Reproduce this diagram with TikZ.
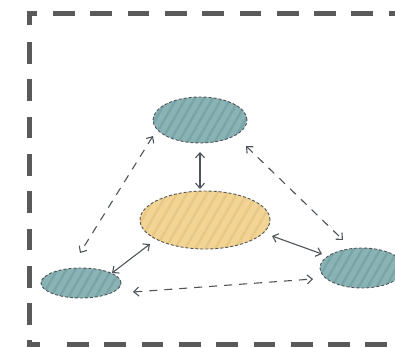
\documentclass[tikz,border=0pt]{standalone}
\usetikzlibrary{arrows.meta,shapes.geometric}
\definecolor{teal1}{HTML}{8AB3B5}
\definecolor{teal2}{HTML}{7AA5A8}
\definecolor{sand1}{HTML}{F2D495}
\definecolor{sand2}{HTML}{E9C886}
\definecolor{frame}{HTML}{5A5A5A}
\definecolor{edge}{HTML}{4E545A}
\tikzset{
  blob/.style={ellipse, draw=edge, dash pattern=on 3pt off 2pt, line width=0.9pt, inner sep=0pt},
  tealblob/.style={blob, fill=teal1, path picture={
      \foreach \k in {-130,-121,...,130}
        \draw[teal2, solid, line width=2.4pt] ([xshift=\k pt]path picture bounding box.south) -- ++(60:100pt);
    }},
  sandblob/.style={blob, fill=sand1, path picture={
      \foreach \k in {-170,-160,...,170}
        \draw[sand2, solid, line width=2.4pt] ([xshift=\k pt]path picture bounding box.south) -- ++(60:120pt);
    }},
  link/.style={draw=edge, line width=1.1pt, {Straight Barb[length=5pt,width=9pt]}-{Straight Barb[length=5pt,width=9pt]}},
  dlink/.style={link, dash pattern=on 8pt off 7pt},
  framestyle/.style={draw=frame, line width=5pt},
  framedash/.style={framestyle, dash pattern=on 21.7pt off 15.6pt}
}
\begin{document}
\begin{tikzpicture}[x=1pt,y=-1pt]
\useasboundingbox (0,0) rectangle (395,347);
% frame
\draw[framestyle] (29,25) -- (29,13.5) -- (37,13.5);
\draw[framedash] (53,13.5) -- (400,13.5);
\draw[framedash] (29,42) -- (29,335);
\draw[framestyle] (29,340) -- (29,344) -- (40,344);
\draw[framedash] (67,344) -- (400,344);
% nodes
\node[sandblob, minimum width=130pt, minimum height=58pt] (c) at (205,220) {};
\node[tealblob, minimum width=94pt, minimum height=46pt] (t) at (200,120) {};
\node[tealblob, minimum width=80pt, minimum height=30pt] (l) at (81,283) {};
\node[tealblob, minimum width=84pt, minimum height=40pt] (r) at (362,268) {};
% connectors
\coordinate (t1) at (200,152);
\coordinate (c1) at (200,189);
\draw[link] (t1) -- (c1);
\coordinate (tl) at (153,136);
\coordinate (lt) at (80,253);
\draw[dlink] (tl) -- (lt);
\coordinate (tr) at (246,146);
\coordinate (rt) at (343,240);
\draw[dlink] (tr) -- (rt);
\coordinate (cl) at (150,244);
\coordinate (lc) at (112,273);
\draw[link] (cl) -- (lc);
\coordinate (cr) at (272,236);
\coordinate (rc) at (322,254);
\draw[link] (cr) -- (rc);
\coordinate (lr) at (133,292);
\coordinate (rl) at (313,279);
\draw[dlink] (lr) -- (rl);
\end{tikzpicture}
\end{document}
